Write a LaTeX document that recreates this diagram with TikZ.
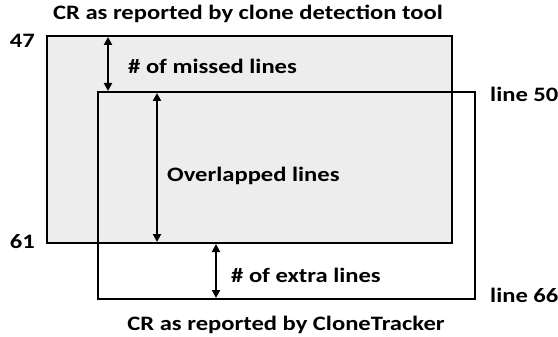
\documentclass[tikz,border=0pt]{standalone}
\usepackage{fontspec}
\setmainfont{Carlito}
\usetikzlibrary{arrows.meta}
\newcommand\wideTxt[1]{\scalebox{1.2}[1]{#1}}
\begin{document}
\begin{tikzpicture}[x=1pt,y=-1pt,
  lbl/.style={font=\fontsize{20.5}{22}\selectfont\bfseries, inner sep=0pt, anchor=base},
  box/.style={draw=black, line width=2.3pt},
  dim/.style={line width=2.3pt, {Triangle[width=8pt,length=8pt]}-{Triangle[width=8pt,length=8pt]}}]
\useasboundingbox (0,0) rectangle (558,337);
\fill[gray!14] (47,36) rectangle (452,243);
\draw[box] (47,36) rectangle (452,243);
\draw[box] (98,92) rectangle (475,299);
\coordinate (m1) at (108,37); \coordinate (m2) at (108,91);
\coordinate (o1) at (157,93); \coordinate (o2) at (157,242);
\coordinate (e1) at (216,244); \coordinate (e2) at (216,298);
\draw[dim] (m1) -- (m2);
\draw[dim] (o1) -- (o2);
\draw[dim] (e1) -- (e2);
\node[lbl] (t1) at (248,20) {\wideTxt{CR as reported by clone detection tool}};
\node[lbl] (t2) at (286,330) {\wideTxt{CR as reported by CloneTracker}};
\node[lbl, anchor=base east] (n47) at (35,48) {\wideTxt{47}};
\node[lbl, anchor=base east] (n61) at (35,248) {\wideTxt{61}};
\node[lbl, anchor=base west] (l50) at (490,102) {\wideTxt{line 50}};
\node[lbl, anchor=base west] (l66) at (490,302) {\wideTxt{line 66}};
\node[lbl, anchor=base west] (ml) at (128,74) {\wideTxt{\# of missed lines}};
\node[lbl, anchor=base west] (ol) at (167,182) {\wideTxt{Overlapped lines}};
\node[lbl, anchor=base west] (el) at (231,282) {\wideTxt{\# of extra lines}};
\end{tikzpicture}
\end{document}
